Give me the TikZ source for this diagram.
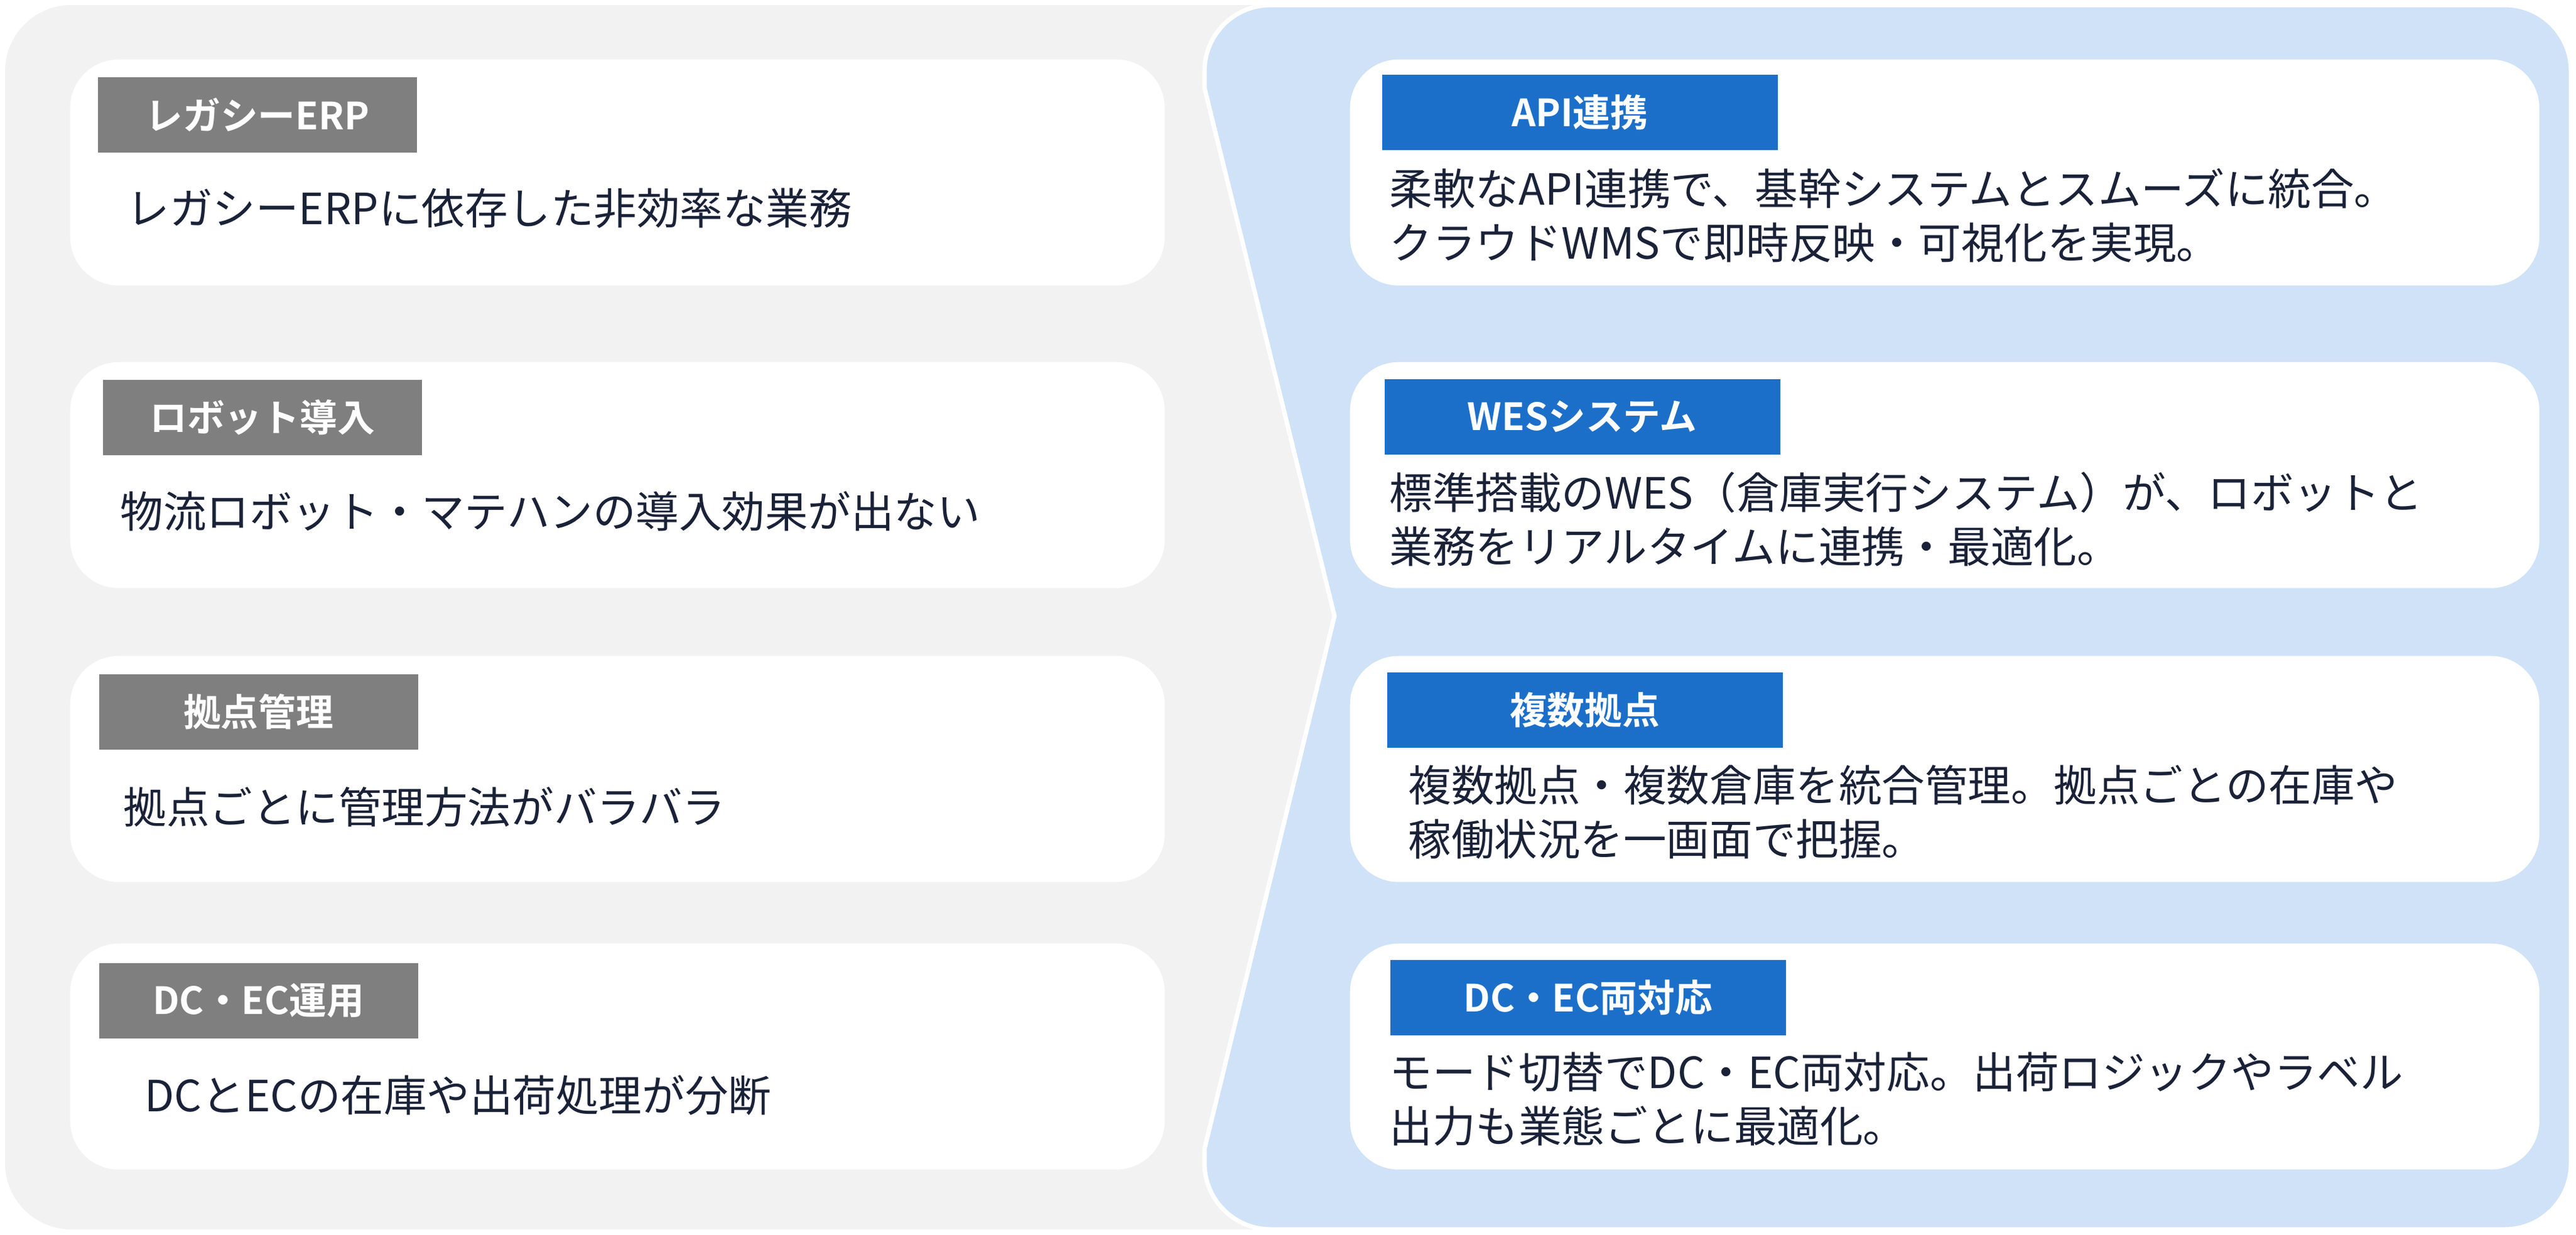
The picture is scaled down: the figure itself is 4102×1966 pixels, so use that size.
\documentclass[tikz,border=0pt]{standalone}
\usepackage{fontspec}
\newfontfamily\jp{Noto Sans CJK JP}[BoldFont={Noto Sans CJK JP Bold}]
\usepackage{tikz}
\usetikzlibrary{calc, positioning}
\definecolor{bggray}{HTML}{F2F2F2}
\definecolor{bgblue}{HTML}{CFE2F7}
\definecolor{tagblue}{HTML}{1C6FC9}
\definecolor{taggray}{HTML}{7F7F7F}
\definecolor{navy}{HTML}{1A2238}
\tikzstyle{card}=[fill=white, rounded corners=22pt, minimum width=17.43cm, minimum height=3.6cm, anchor=north west, inner sep=0pt]
\tikzstyle{rcard}=[card, minimum width=18.94cm]
\tikzstyle{tag}=[anchor=north west, minimum width=5.08cm, minimum height=1.2cm, inner sep=0pt, text=white, font=\jp\bfseries\fontsize{17}{20}\selectfont]
\tikzstyle{ltag}=[tag, fill=taggray]
\tikzstyle{rtag}=[tag, fill=tagblue, minimum width=6.3cm]
\tikzstyle{body}=[anchor=west, align=left, inner sep=0pt, text=navy, font=\jp\fontsize{19.5}{24.5}\selectfont]

\begin{document}
\begin{tikzpicture}[x=0.1mm, y=-0.1mm]
\useasboundingbox (0,0) rectangle (4102,1966);
\fill[bggray, rounded corners=30pt] (8,8) rectangle (4094,1958);
\fill[bgblue, draw=white, line width=2pt, rounded corners=30pt] (4094,8) -- (1918,8) [sharp corners] -- (1918,140) -- (2125,981) -- (1918,1830) [rounded corners=30pt] -- (1918,1958) -- (4094,1958) -- cycle;

% left side
\node[card] (L1) at (111,94) {};
\node[card] (L2) at (111,576) {};
\node[card] (L3) at (111,1044) {};
\node[card] (L4) at (111,1502) {};
\node[ltag] (LT1) at (155,122) {レガシーERP};
\node[ltag] (LT2) at (163,604) {ロボット導入};
\node[ltag] (LT3) at (157,1073) {拠点管理};
\node[ltag] (LT4) at (157,1533) {DC・EC運用};
\node[body] (LB1) at (201,332) {レガシーERPに依存した非効率な業務};
\node[body] (LB2) at (191,814) {物流ロボット・マテハンの導入効果が出ない};
\node[body] (LB3) at (196,1285) {拠点ごとに管理方法がバラバラ};
\node[body] (LB4) at (230,1745) {DCとECの在庫や出荷処理が分断};

% right side
\node[rcard] (R1) at (2149,94) {};
\node[rcard] (R2) at (2149,576) {};
\node[rcard] (R3) at (2149,1044) {};
\node[rcard] (R4) at (2149,1502) {};
\node[rtag] (RT1) at (2200,118) {API連携};
\node[rtag] (RT2) at (2204,603) {WESシステム};
\node[rtag] (RT3) at (2208,1070) {複数拠点};
\node[rtag] (RT4) at (2213,1528) {DC・EC両対応};
\node[body] (RB1) at (2212,343) {柔軟なAPI連携で、基幹システムとスムーズに統合。\\クラウドWMSで即時反映・可視化を実現。};
\node[body] (RB2) at (2212,827) {標準搭載のWES（倉庫実行システム）が、ロボットと\\業務をリアルタイムに連携・最適化。};
\node[body] (RB3) at (2242,1293) {複数拠点・複数倉庫を統合管理。拠点ごとの在庫や\\稼働状況を一画面で把握。};
\node[body] (RB4) at (2212,1751) {モード切替でDC・EC両対応。出荷ロジックやラベル\\出力も業態ごとに最適化。};
\end{tikzpicture}
\end{document}
